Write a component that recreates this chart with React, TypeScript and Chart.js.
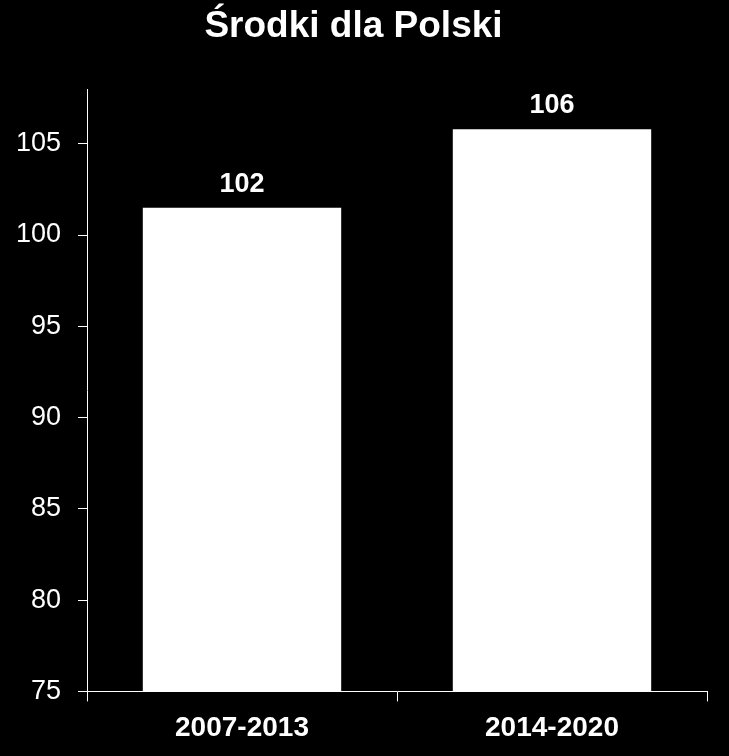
import { useEffect, useRef } from "react"
import Chart from "chart.js/auto"

const periods = ["2007-2013", "2014-2020"]
const funds = [101.5, 105.8]
const fundLabels = ["102", "106"]
const yTicks = [75, 80, 85, 90, 95, 100, 105]

const FONT = "'Liberation Sans', Arial, sans-serif"

// rysuje wartości nad słupkami
const valueLabels = {
  id: "valueLabels",
  afterDatasetsDraw(chart: Chart) {
    const ctx = chart.ctx
    const meta = chart.getDatasetMeta(0)
    ctx.save()
    ctx.fillStyle = "#ffffff"
    ctx.font = `bold 27px ${FONT}`
    ctx.textAlign = "center"
    ctx.textBaseline = "alphabetic"
    meta.data.forEach((bar: any, i: number) => {
      ctx.fillText(fundLabels[i], bar.x, bar.y - 16)
    })
    ctx.restore()
  },
}

export default function App() {
  const chartRef = useRef<HTMLCanvasElement>(null)
  const chartInstance = useRef<Chart | null>(null)

  useEffect(() => {
    document.body.style.margin = "0"
    document.body.style.background = "#000"
    if (!chartRef.current) return

    if (chartInstance.current) {
      chartInstance.current.destroy()
    }

    const ctx = chartRef.current.getContext("2d")
    if (ctx) {
      chartInstance.current = new Chart(ctx, {
        type: "bar",
        data: {
          labels: periods,
          datasets: [
            {
              label: "Środki dla Polski",
              data: funds,
              backgroundColor: "#ffffff",
              borderWidth: 0,
              barPercentage: 0.64,
              categoryPercentage: 1,
            },
          ],
        },
        options: {
          responsive: true,
          maintainAspectRatio: false,
          animation: false,
          layout: {
            padding: { top: 0, right: 22, bottom: 1, left: 0 },
          },
          scales: {
            x: {
              grid: {
                display: true,
                drawOnChartArea: false,
                drawTicks: true,
                tickLength: 10,
                color: "#ffffff",
                offset: true,
              },
              border: { display: true, color: "#ffffff", width: 1 },
              ticks: {
                color: "#ffffff",
                padding: 10,
                font: { family: FONT, size: 28, weight: "bold" },
              },
            },
            y: {
              min: 75,
              max: 108,
              afterBuildTicks: (scale: any) => {
                scale.ticks = yTicks.map((v) => ({ value: v }))
              },
              afterFit: (scale: any) => {
                scale.width = 87
              },
              grid: {
                display: true,
                drawOnChartArea: false,
                drawTicks: true,
                tickLength: 9,
                color: "#ffffff",
              },
              border: { display: true, color: "#ffffff", width: 1 },
              ticks: {
                color: "#ffffff",
                padding: 17,
                font: { family: FONT, size: 27 },
              },
            },
          },
          plugins: {
            legend: { display: false },
            tooltip: { enabled: false },
            title: {
              display: true,
              text: "Środki dla Polski",
              color: "#ffffff",
              font: { family: FONT, size: 37, weight: "bold" },
              padding: { top: 5, bottom: 39.6 },
            },
          },
        },
        plugins: [valueLabels],
      })
    }

    return () => {
      if (chartInstance.current) {
        chartInstance.current.destroy()
        chartInstance.current = null
      }
    }
  }, [])

  return (
    <div style={{ width: 729, height: 756, background: "#000", position: "relative" }}>
      <canvas ref={chartRef}></canvas>
    </div>
  )
}
